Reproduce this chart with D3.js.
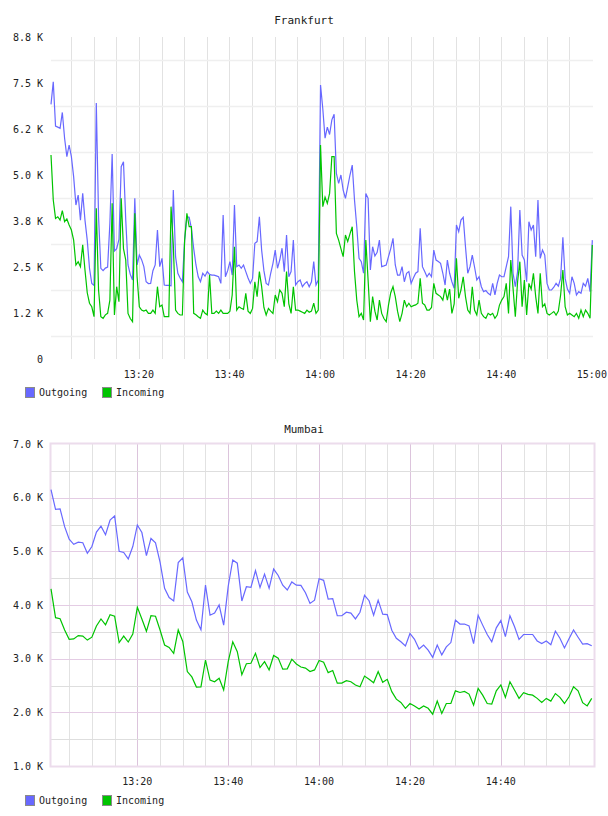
<!DOCTYPE html>
<html>
<head>
<meta charset="utf-8">
<script src="https://cdn.jsdelivr.net/npm/d3@7"></script>
<style>
    body { margin: 0; background: #fff; }
    text { font-family: "DejaVu Sans Mono", monospace; fill: #222; }
</style>
</head>
<body>
<div id="charts"></div>
<script>
// Frankfurt: one sample every 30 s from 13:00:36
const fraStart = "13:00:36";
const fraStepSec = 30;
const fraOutgoing = [
    6920, 7535, 6330, 6300, 6270, 6700, 6000, 5500, 5815, 5500,
    4950, 4185, 4455, 3775, 4500, 3775, 3230, 2465, 2055, 2000,
    6955, 3865, 2465, 2400, 2470, 2500, 3690, 5570, 2935, 3000,
    3250, 5225, 5360, 3775, 2555, 2300, 2145, 4365, 2555, 2825,
    2700, 2510, 2100, 2050, 2055, 2400, 2555, 3505, 2510, 2735,
    2010, 2000, 2000, 1990, 4590, 2780, 2330, 2200, 2100, 3230,
    3865, 3850, 3550, 3000, 2555, 2235, 2100, 2330, 2250, 2375,
    2300, 2280, 2280, 2260, 2235, 2055, 3910, 2235, 2400, 2645,
    2280, 4185, 2510, 2555, 2465, 2555, 2375, 2200, 2055, 2190,
    3145, 3190, 3865, 2960, 2400, 2055, 2010, 2330, 2600, 2960,
    2465, 2690, 3010, 2375, 3370, 2235, 2375, 3230, 2010, 2100,
    2145, 1965, 2050, 2100, 1965, 2100, 2645, 2010, 2145, 7445,
    6800, 6000, 6300, 6100, 6500, 6650, 5045, 4770, 5000, 4590,
    4365, 4680, 5000, 5270, 4320, 3595, 2735, 2645, 2330, 4500,
    4365, 2420, 3050, 2800, 2900, 3230, 2510, 2530, 2555, 2780,
    3000, 3280, 2555, 2280, 2280, 2510, 2100, 2330, 2375, 2055,
    2200, 2330, 2375, 3550, 2510, 2375, 2235, 2330, 2235, 2960,
    2690, 2650, 2600, 2330, 2010, 2690, 2330, 2100, 1920, 3640,
    3460, 3775, 3850, 3050, 2330, 2510, 2825, 2500, 2145, 2235,
    1965, 1830, 1860, 1785, 1740, 2055, 1740, 2055, 2280, 2235,
    2235, 2510, 2780, 4140, 2330, 1965, 2375, 4050, 2825, 2690,
    2100, 3730, 3505, 3640, 2780, 4320, 2735, 2960, 2825, 2055,
    1875, 1875, 1950, 2055, 1980, 2190, 3305, 2190, 1900, 1785,
    2235, 2055, 1740, 1830, 1785, 2055, 1980, 2190, 1830, 3230
];
const fraIncoming = [
    5545, 4320, 3820, 3865, 3775, 4030, 3730, 3805, 3640, 3505,
    3230, 2555, 2645, 2510, 3100, 2420, 1800, 1515, 1420, 1150,
    4095, 1875, 1150, 1105, 1200, 1240, 1600, 4230, 1195, 1965,
    1555, 4365, 3000, 2690, 1240, 1100, 1015, 3960, 2235, 1420,
    1330, 1300, 1330, 1240, 1240, 1330, 1240, 1965, 1420, 1465,
    1150, 1150, 1150, 4140, 3100, 1330, 1240, 1195, 1195, 3230,
    3960, 3595, 3595, 1240, 1200, 1150, 1105, 1330, 1240, 1200,
    2280, 1240, 1240, 1300, 1240, 1330, 1240, 1240, 1240, 1300,
    1740, 3050, 1330, 1420, 1380, 1350, 1785, 1300, 1240, 1375,
    2100, 1695, 2375, 1965, 1400, 1195, 1375, 1300, 1240, 1740,
    1560, 1875, 1785, 1420, 2375, 1500, 1240, 1965, 1330, 1330,
    1300, 1270, 1240, 1330, 1270, 1300, 1515, 1240, 1330, 5815,
    4140, 4400, 4230, 4500, 5500, 5500, 3415, 3230, 3000, 2780,
    3370, 3190, 3400, 3595, 2375, 1600, 1150, 1240, 1060, 3230,
    2145, 1015, 1695, 1300, 1060, 1600, 1240, 1100, 1015, 1465,
    1800, 1965, 1695, 1300, 1015, 1240, 1600, 1420, 1515, 1420,
    1450, 1470, 1515, 2190, 1515, 1470, 1330, 1330, 1400, 2055,
    1785, 1740, 1695, 1600, 1920, 1600, 1900, 1240, 1500, 2735,
    1650, 1875, 2235, 1695, 1330, 1240, 1965, 1330, 1195, 1600,
    1240, 1150, 1105, 1240, 1195, 1240, 1105, 1195, 1465, 1600,
    1695, 2055, 1240, 2690, 1920, 1150, 2100, 2645, 1420, 2145,
    1195, 2055, 1900, 2330, 1695, 1240, 2330, 1420, 1500, 1240,
    1195, 1240, 1290, 1195, 1300, 1740, 2420, 1420, 1195, 1240,
    1195, 1150, 1240, 1105, 1330, 1150, 1330, 1240, 1105, 3100
];
const fraYTicks = [0, 1250, 2500, 3750, 5000, 6250, 7500, 8750];
const fraYLabels = ["0", "1.2 K", "2.5 K", "3.8 K", "5.0 K", "6.2 K", "7.5 K", "8.8 K"];
const fraXLabels = ["13:20", "13:40", "14:00", "14:20", "14:40", "15:00"];

// Mumbai: one sample a minute from 13:01
const mumStart = "13:01:00";
const mumStepSec = 60;
const mumOutgoing = [
    6150, 5783, 5790, 5460, 5225, 5130, 5170, 5160, 4965, 5090,
    5360, 5470, 5310, 5584, 5660, 5000, 4980, 4860, 5090, 5490,
    5350, 4920, 5240, 5160, 4800, 4310, 4140, 4075, 4790, 4880,
    4240, 4060, 3720, 3540, 4370, 3810, 3850, 4000, 3625, 4350,
    4840, 4780, 4075, 4340, 4330, 4640, 4325, 4575, 4310, 4670,
    4550, 4370, 4280, 4430, 4370, 4365, 4230, 4030, 4090, 4490,
    4460, 4110, 4120, 3800, 3800, 3865, 3850, 3740, 3865, 4180,
    4080, 3810, 4090, 3830, 3820, 3530, 3380, 3315, 3235, 3470,
    3360, 3180, 3255, 3160, 3025, 3255, 3070, 3220, 3300, 3720,
    3645, 3645, 3610, 3280, 3810, 3625, 3450, 3315, 3575, 3710,
    3410, 3800, 3600, 3360, 3450, 3450, 3450, 3330, 3280, 3330,
    3260, 3515, 3380, 3200, 3370, 3535, 3400, 3270, 3280, 3240
];
const mumIncoming = [
    4300, 3764, 3745, 3535, 3360, 3367, 3430, 3420, 3346, 3400,
    3610, 3740, 3630, 3820, 3790, 3300, 3420, 3310, 3460, 3960,
    3740, 3510, 3800, 3790, 3535, 3255, 3210, 3100, 3535, 3320,
    2760, 2660, 2470, 2475, 2975, 2600, 2570, 2635, 2415, 2945,
    3315, 3130, 2700, 2905, 2915, 3100, 2835, 2945, 2790, 3060,
    3010, 2805, 2810, 2990, 2900, 2845, 2825, 2760, 2790, 2965,
    2935, 2740, 2780, 2545, 2545, 2590, 2570, 2510, 2475, 2675,
    2615, 2550, 2760, 2560, 2615, 2385, 2245, 2185, 2075, 2165,
    2120, 2060, 2120, 2075, 1965, 2210, 1980, 2165, 2165, 2400,
    2370, 2390, 2340, 2135, 2445, 2320, 2165, 2155, 2400, 2510,
    2280, 2570, 2415, 2260, 2365, 2335, 2320, 2260, 2185, 2260,
    2210, 2350, 2280, 2165, 2290, 2475, 2400, 2180, 2120, 2260
];
const mumYTicks = [1000, 2000, 3000, 4000, 5000, 6000, 7000];
const mumYLabels = ["1.0 K", "2.0 K", "3.0 K", "4.0 K", "5.0 K", "6.0 K", "7.0 K"];
const mumXLabels = ["13:20", "13:40", "14:00", "14:20", "14:40"];

const seriesNames = ["Outgoing", "Incoming"];
const seriesColors = ["#6868ff", "#00c400"];

const parseT = d3.timeParse("%H:%M:%S");
const parseHM = d3.timeParse("%H:%M");

function toPoints(start, stepSec, values) {
    const t0 = parseT(start);
    return values.map(function (v, i) {
        return { t: d3.timeSecond.offset(t0, i * stepSec), v: v };
    });
}

const svg = d3.select("#charts")
    .append("svg")
    .attr("width", 608)
    .attr("height", 816);

function drawChart(cfg) {
    const g = svg.append("g");

    const x = d3.scaleTime()
        .domain([parseT(cfg.domainX[0]), parseT(cfg.domainX[1])])
        .range([cfg.left, cfg.right]);
    const y = d3.scaleLinear()
        .domain([cfg.yTicks[0], cfg.yTicks[cfg.yTicks.length - 1]])
        .range([cfg.bottom, cfg.top]);

    // vertical grid every 5 minutes
    const minutes = d3.timeMinute.every(5).range(x.domain()[0], x.domain()[1])
        .filter(function (d) { return x(d) < cfg.right - 3; });
    g.selectAll(".vgrid")
        .data(minutes)
        .enter()
        .append("line")
        .attr("x1", function (d) { return Math.round(x(d)) + 0.5; })
        .attr("x2", function (d) { return Math.round(x(d)) + 0.5; })
        .attr("y1", cfg.top)
        .attr("y2", cfg.bottom)
        .attr("stroke", function (d) {
            return (cfg.pink && d.getMinutes() % 20 === 0) ? "#dcc4dc" : "#e2e2e2";
        });

    // horizontal grid
    let hLines;
    if (cfg.pink) {
        hLines = d3.range(cfg.yTicks[0] + 500, cfg.yTicks[cfg.yTicks.length - 1], 500)
            .map(function (v) { return { v: v, major: v % 1000 === 0 }; });
    } else {
        hLines = cfg.yTicks.slice(1).map(function (t, i) {
            return { v: (t + cfg.yTicks[i]) / 2, major: false };
        });
    }
    g.selectAll(".hgrid")
        .data(hLines)
        .enter()
        .append("line")
        .attr("x1", cfg.left)
        .attr("x2", cfg.right)
        .attr("y1", function (d) { return Math.round(y(d.v)) + 0.5; })
        .attr("y2", function (d) { return Math.round(y(d.v)) + 0.5; })
        .attr("stroke", function (d) {
            return cfg.pink ? (d.major ? "#e4cce4" : "#dedede") : "#efefef";
        })
        .attr("stroke-width", cfg.pink ? 1 : 1.5);

    if (cfg.pink) {
        g.append("rect")
            .attr("x", cfg.left - 0.5)
            .attr("y", cfg.top - 0.5)
            .attr("width", cfg.right - cfg.left + 1)
            .attr("height", cfg.bottom - cfg.top + 1)
            .attr("fill", "none")
            .attr("stroke", "#ecdcec")
            .attr("stroke-width", 2);
    }

    // series lines
    const line = d3.line()
        .x(function (d) { return x(d.t); })
        .y(function (d) { return y(d.v); });
    cfg.series.forEach(function (s, i) {
        g.append("path")
            .datum(s)
            .attr("d", line)
            .attr("fill", "none")
            .attr("stroke", seriesColors[i])
            .attr("stroke-width", 1.2);
    });

    // y labels
    g.selectAll(".ylab")
        .data(cfg.yTicks)
        .enter()
        .append("text")
        .attr("x", cfg.left - 8)
        .attr("y", function (d) { return y(d); })
        .attr("dy", "0.35em")
        .attr("text-anchor", "end")
        .attr("font-size", "10px")
        .text(function (d, i) { return cfg.yLabels[i]; });

    // x labels
    g.selectAll(".xlab")
        .data(cfg.xLabels)
        .enter()
        .append("text")
        .attr("x", function (d) { return x(parseHM(d)); })
        .attr("y", cfg.bottom + 15)
        .attr("dy", "0.35em")
        .attr("text-anchor", "middle")
        .attr("font-size", "10px")
        .text(function (d) { return d; });

    // title
    g.append("text")
        .attr("x", 304)
        .attr("y", cfg.titleY)
        .attr("dy", "0.35em")
        .attr("text-anchor", "middle")
        .attr("font-size", "11px")
        .text(cfg.title);

    // legend
    const legX = [25, 102];
    const leg = g.selectAll(".leg")
        .data(seriesNames)
        .enter()
        .append("g")
        .attr("transform", function (d, i) { return `translate(${legX[i]},${cfg.legendY})`; });
    leg.append("rect")
        .attr("x", 0.5)
        .attr("y", -4.5)
        .attr("width", 9)
        .attr("height", 10)
        .attr("fill", function (d, i) { return seriesColors[i]; })
        .attr("stroke", "#8a8a8a");
    leg.append("text")
        .attr("x", 14)
        .attr("y", 0.5)
        .attr("dy", "0.35em")
        .attr("font-size", "10px")
        .text(function (d) { return d; });
}

drawChart({
    title: "Frankfurt",
    titleY: 20,
    left: 51, right: 593, top: 37, bottom: 359,
    domainX: ["13:00:36", "15:00:15"],
    yTicks: fraYTicks, yLabels: fraYLabels, xLabels: fraXLabels,
    series: [toPoints(fraStart, fraStepSec, fraOutgoing), toPoints(fraStart, fraStepSec, fraIncoming)],
    legendY: 392,
    pink: false
});

drawChart({
    title: "Mumbai",
    titleY: 429,
    left: 51, right: 594, top: 444, bottom: 766,
    domainX: ["13:01:00", "15:00:30"],
    yTicks: mumYTicks, yLabels: mumYLabels, xLabels: mumXLabels,
    series: [toPoints(mumStart, mumStepSec, mumOutgoing), toPoints(mumStart, mumStepSec, mumIncoming)],
    legendY: 800,
    pink: true
});
</script>
</body>
</html>
